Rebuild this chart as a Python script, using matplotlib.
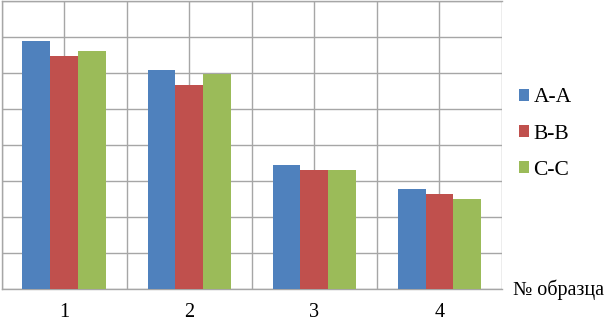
import matplotlib
matplotlib.use("Agg")
import matplotlib.pyplot as plt
import numpy as np

categories = ["1", "2", "3", "4"]
series_names = ["A-A", "B-B", "C-C"]
values_a = [6.87, 6.07, 3.43, 2.77]
values_b = [6.46, 5.67, 3.29, 2.63]
values_c = [6.60, 5.95, 3.29, 2.49]
colors = ["#4F81BD", "#C0504D", "#9BBB59"]

plt.rcParams['font.family'] = ['Liberation Serif', 'DejaVu Serif']
FS = 14.5
LFS = 15.5

fig = plt.figure(figsize=(6.05, 3.21), dpi=100)
W, H = 605, 321
ax = fig.add_axes([1.5 / W, 32 / H, (502 - 1.5) / W, (321 - 32 - 0.5) / H])

x = np.arange(len(categories))
bw = 0.222
for i, (vals, name, c) in enumerate(zip([values_a, values_b, values_c], series_names, colors)):
    ax.bar(x + (i - 1) * bw, vals, width=bw, color=c, label=name, zorder=3)

ax.set_xlim(-0.5, len(categories) - 0.5)
ax.set_ylim(0, 8)
ax.set_yticks(np.arange(0, 9, 1))
ax.set_xticks(np.arange(-0.5, len(categories), 0.5))
ax.grid(True, color="#A6A6A6", linewidth=1.0, zorder=0)
ax.tick_params(axis='both', length=0, labelleft=False, labelbottom=False)
for s in ax.spines.values():
    s.set_color("#A6A6A6")
    s.set_linewidth(1.0)
ax.spines['right'].set_visible(False)

trans = ax.get_xaxis_transform()
for xi, lab in zip(x, categories):
    ax.annotate(lab, xy=(xi, 0), xycoords=trans, xytext=(0, -(317 - 289) * 0.72),
                textcoords='offset points', ha='center', va='baseline', fontsize=FS)

fig.text(513 / W, 1 - 295 / H, "№ образца", ha='left', va='baseline', fontsize=FS)

leg = fig.legend(loc='upper left', bbox_to_anchor=(519 / W, 1 - 88.5 / H), frameon=False,
                 fontsize=LFS, handlelength=0.45, handleheight=0.45, handletextpad=0.22,
                 labelspacing=0.79, borderaxespad=0, borderpad=0)

fig.savefig("out.png", dpi=100, facecolor="white")
